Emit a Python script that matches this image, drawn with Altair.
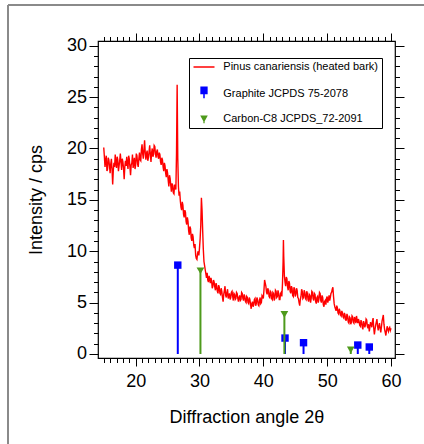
import altair as alt
import pandas as pd

FONT = "Liberation Sans"

PATTERN_X = [
    15.0, 15.1, 15.2, 15.3, 15.4, 15.5, 15.6, 15.7, 15.8, 15.9,
    16.0, 16.1, 16.2, 16.3, 16.4, 16.5, 16.6, 16.7, 16.8, 16.9,
    17.0, 17.1, 17.2, 17.3, 17.4, 17.5, 17.6, 17.7, 17.8, 17.9,
    18.0, 18.1, 18.2, 18.3, 18.4, 18.5, 18.6, 18.7, 18.8, 18.9,
    19.0, 19.1, 19.2, 19.3, 19.4, 19.5, 19.6, 19.7, 19.8, 19.9,
    20.0, 20.1, 20.2, 20.3, 20.4, 20.5, 20.6, 20.7, 20.8, 20.9,
    21.0, 21.1, 21.2, 21.3, 21.4, 21.5, 21.6, 21.7, 21.8, 21.9,
    22.0, 22.1, 22.2, 22.3, 22.4, 22.5, 22.6, 22.7, 22.8, 22.9,
    23.0, 23.1, 23.2, 23.3, 23.4, 23.5, 23.6, 23.7, 23.8, 23.9,
    24.0, 24.1, 24.2, 24.3, 24.4, 24.5, 24.6, 24.7, 24.8, 24.9,
    25.0, 25.1, 25.2, 25.3, 25.4, 25.5, 25.6, 25.7, 25.8, 25.9,
    26.0, 26.1, 26.2, 26.3, 26.4, 26.5, 26.6, 26.7, 26.8, 26.9,
    27.0, 27.1, 27.2, 27.3, 27.4, 27.5, 27.6, 27.7, 27.8, 27.9,
    28.0, 28.1, 28.2, 28.3, 28.4, 28.5, 28.6, 28.7, 28.8, 28.9,
    29.0, 29.1, 29.2, 29.3, 29.4, 29.5, 29.6, 29.7, 29.8, 29.9,
    30.0, 30.1, 30.2, 30.3, 30.4, 30.5, 30.6, 30.7, 30.8, 30.9,
    31.0, 31.1, 31.2, 31.3, 31.4, 31.5, 31.6, 31.7, 31.8, 31.9,
    32.0, 32.1, 32.2, 32.3, 32.4, 32.5, 32.6, 32.7, 32.8, 32.9,
    33.0, 33.1, 33.2, 33.3, 33.4, 33.5, 33.6, 33.7, 33.8, 33.9,
    34.0, 34.1, 34.2, 34.3, 34.4, 34.5, 34.6, 34.7, 34.8, 34.9,
    35.0, 35.1, 35.2, 35.3, 35.4, 35.5, 35.6, 35.7, 35.8, 35.9,
    36.0, 36.1, 36.2, 36.3, 36.4, 36.5, 36.6, 36.7, 36.8, 36.9,
    37.0, 37.1, 37.2, 37.3, 37.4, 37.5, 37.6, 37.7, 37.8, 37.9,
    38.0, 38.1, 38.2, 38.3, 38.4, 38.5, 38.6, 38.7, 38.8, 38.9,
    39.0, 39.1, 39.2, 39.3, 39.4, 39.5, 39.6, 39.7, 39.8, 39.9,
    40.0, 40.1, 40.2, 40.3, 40.4, 40.5, 40.6, 40.7, 40.8, 40.9,
    41.0, 41.1, 41.2, 41.3, 41.4, 41.5, 41.6, 41.7, 41.8, 41.9,
    42.0, 42.1, 42.2, 42.3, 42.4, 42.5, 42.6, 42.7, 42.8, 42.9,
    43.0, 43.1, 43.15, 43.2, 43.3, 43.4, 43.5, 43.6, 43.7, 43.8,
    43.9, 44.0, 44.1, 44.2, 44.3, 44.4, 44.5, 44.6, 44.7, 44.8,
    44.9, 45.0, 45.1, 45.2, 45.3, 45.4, 45.5, 45.6, 45.7, 45.8,
    45.9, 46.0, 46.1, 46.2, 46.3, 46.4, 46.5, 46.6, 46.7, 46.8,
    46.9, 47.0, 47.1, 47.2, 47.3, 47.4, 47.5, 47.6, 47.7, 47.8,
    47.9, 48.0, 48.1, 48.2, 48.3, 48.4, 48.5, 48.6, 48.7, 48.8,
    48.9, 49.0, 49.1, 49.2, 49.3, 49.4, 49.5, 49.6, 49.7, 49.8,
    49.9, 50.0, 50.1, 50.2, 50.3, 50.4, 50.5, 50.6, 50.7, 50.8,
    50.9, 51.0, 51.1, 51.2, 51.3, 51.4, 51.5, 51.6, 51.7, 51.8,
    51.9, 52.0, 52.1, 52.2, 52.3, 52.4, 52.5, 52.6, 52.7, 52.8,
    52.9, 53.0, 53.1, 53.2, 53.3, 53.4, 53.5, 53.6, 53.7, 53.8,
    53.9, 54.0, 54.1, 54.2, 54.3, 54.4, 54.5, 54.6, 54.7, 54.8,
    54.9, 55.0, 55.1, 55.2, 55.3, 55.4, 55.5, 55.6, 55.7, 55.8,
    55.9, 56.0, 56.1, 56.2, 56.3, 56.4, 56.5, 56.6, 56.7, 56.8,
    56.9, 57.0, 57.1, 57.2, 57.3, 57.4, 57.5, 57.6, 57.7, 57.8,
    57.9, 58.0, 58.1, 58.2, 58.3, 58.4, 58.5, 58.6, 58.7, 58.8,
    58.9, 59.0, 59.1, 59.2, 59.3, 59.4, 59.5, 59.6, 59.7, 59.8,
    59.9, 60.0,
]
PATTERN_Y = [
    20.1, 19.2, 18.2, 18.9, 19.3, 17.8, 18.0, 19.1, 18.9, 18.3,
    17.6, 18.5, 19.0, 18.0, 16.5, 17.9, 18.6, 18.2, 19.4, 18.6,
    18.1, 19.2, 18.9, 17.8, 18.3, 18.8, 19.5, 18.7, 17.9, 19.0,
    18.7, 18.1, 17.0, 18.2, 18.8, 18.3, 19.2, 18.5, 18.0, 19.3,
    19.0, 18.2, 17.4, 18.4, 18.6, 19.4, 18.1, 18.6, 19.1, 18.0,
    18.4, 19.5, 19.3, 18.5, 18.2, 19.0, 19.6, 18.9, 18.8, 19.9,
    20.4, 19.5, 19.0, 19.9, 20.8, 19.6, 18.9, 19.5, 19.8, 18.8,
    19.1, 19.7, 20.3, 19.4, 18.7, 19.6, 20.0, 19.2, 19.4, 20.3,
    20.2, 19.5, 19.1, 19.7, 19.9, 19.2, 19.0, 19.6, 19.4, 18.7,
    18.4, 19.1, 18.9, 18.2, 17.8, 18.6, 18.3, 17.6, 17.2, 18.0,
    17.6, 16.9, 16.3, 17.4, 17.1, 16.4, 15.8, 16.6, 16.4, 15.7,
    15.6, 16.5, 16.2, 16.0, 19.5, 26.2, 19.0, 16.3, 15.4, 15.8,
    14.9, 14.3, 14.0, 14.8, 14.5, 13.6, 13.3, 14.0, 13.8, 12.9,
    12.6, 13.3, 12.9, 12.0, 11.6, 12.4, 12.2, 11.3, 11.0, 11.7,
    11.4, 10.6, 10.3, 10.7, 9.6, 9.3, 9.2, 9.8, 10.0, 9.6,
    10.3, 11.2, 12.5, 15.2, 14.0, 12.0, 10.2, 9.0, 8.6, 8.2,
    7.8, 7.4, 7.9, 7.2, 7.0, 7.6, 7.3, 6.9, 7.4, 7.1,
    6.4, 6.6, 7.2, 7.0, 6.5, 6.2, 6.9, 6.6, 6.1, 5.9,
    6.7, 6.5, 5.9, 5.8, 6.4, 6.1, 5.5, 5.1, 5.8, 6.2,
    6.6, 5.7, 5.5, 6.0, 6.3, 5.4, 5.7, 5.9, 5.3, 5.5,
    6.0, 6.1, 5.6, 5.2, 5.9, 5.8, 5.3, 5.4, 6.0, 5.9,
    5.4, 5.1, 5.5, 5.7, 5.2, 5.3, 6.0, 5.9, 5.4, 5.2,
    5.8, 5.6, 5.1, 5.0, 5.6, 5.5, 5.0, 4.9, 5.5, 5.3,
    4.8, 4.4, 4.9, 5.1, 4.6, 4.8, 5.3, 5.4, 4.7, 4.9,
    5.5, 5.3, 4.8, 4.7, 5.2, 5.5, 4.9, 5.0, 5.7, 5.6,
    5.4, 6.2, 7.2, 6.9, 6.6, 6.0, 5.8, 6.4, 6.2, 5.6,
    5.5, 6.1, 6.0, 5.4, 5.3, 6.0, 5.9, 5.2, 5.4, 6.2,
    6.1, 5.5, 5.6, 6.2, 5.9, 5.3, 5.3, 5.9, 6.0, 5.6,
    6.8, 9.0, 11.1, 9.5, 7.6, 7.0, 6.6, 7.5, 7.3, 6.5,
    6.2, 7.1, 6.9, 6.1, 5.9, 6.6, 6.4, 5.7, 5.6, 6.5,
    6.3, 5.6, 5.8, 6.4, 6.2, 5.5, 5.4, 5.0, 4.7, 5.3,
    5.6, 6.3, 6.1, 5.4, 5.5, 6.2, 6.0, 5.4, 5.3, 6.1,
    5.9, 5.3, 5.1, 5.8, 5.7, 5.0, 5.4, 6.1, 6.0, 5.4,
    5.2, 5.9, 5.8, 5.1, 4.9, 5.5, 5.6, 5.0, 5.3, 6.0,
    5.9, 5.2, 5.0, 5.7, 5.5, 4.8, 4.6, 5.1, 5.2, 4.8,
    5.4, 5.6, 5.0, 5.3, 5.7, 5.2, 5.5, 5.9, 6.0, 6.3,
    6.5, 5.6, 4.9, 4.6, 4.4, 4.2, 4.7, 4.5, 4.0, 3.9,
    4.4, 4.2, 3.8, 3.7, 4.2, 4.0, 3.6, 3.5, 4.0, 3.8,
    3.3, 3.3, 3.9, 3.7, 3.1, 3.0, 3.6, 3.5, 2.9, 3.1,
    3.7, 3.6, 3.1, 3.0, 3.6, 3.4, 3.0, 3.7, 3.3, 3.0,
    3.4, 3.2, 2.8, 2.7, 3.3, 3.1, 2.6, 2.4, 3.2, 3.0,
    2.6, 2.8, 3.4, 3.3, 2.7, 2.5, 2.9, 2.2, 2.6, 3.1,
    2.9, 2.6, 3.2, 3.5, 2.5, 1.9, 2.4, 2.8, 3.1, 3.4,
    2.7, 2.3, 2.7, 3.0, 2.5, 2.1, 2.6, 3.2, 3.5, 3.8,
    2.9, 2.4, 2.1, 1.8, 2.3, 2.7, 2.4, 2.2, 2.5, 2.6,
    2.3, 2.5,
]

GRAPHITE_X = [26.6, 43.4, 46.3, 54.8, 56.6]
GRAPHITE_Y = [8.65, 1.55, 1.1, 0.87, 0.68]
CARBON_X = [30.15, 43.3, 53.7]
CARBON_Y = [8.1, 3.86, 0.4]

SERIES = ["Pinus canariensis (heated bark)", "Graphite JCPDS 75-2078", "Carbon-C8 JCPDS_72-2091"]
COLORS = ["#ff0000", "#0000ff", "#4e9a1c"]
LEGEND_SHAPES = [
    "M-2.1,-0.15H2.1V0.15H-2.1Z",
    "M-0.73,-1.4H0.73V0.15H0.15V0.95H-0.15V0.15H-0.73Z",
    "M-0.76,-0.7L0.76,-0.7L0.13,0.45V0.85H-0.13V0.45Z",
]

X_TICKS = [15, 16, 17, 18, 19, 20, 21, 22, 23, 24, 25, 26, 27, 28, 29, 30,
           31, 32, 33, 34, 35, 36, 37, 38, 39, 40, 41, 42, 43, 44, 45,
           46, 47, 48, 49, 50, 51, 52, 53, 54, 55, 56, 57, 58, 59, 60]
Y_TICKS = [0, 1, 2, 3, 4, 5, 6, 7, 8, 9, 10, 11, 12, 13, 14, 15,
           16, 17, 18, 19, 20, 21, 22, 23, 24, 25, 26, 27, 28, 29, 30]
X_DOMAIN = [14.1, 60.63]
Y_DOMAIN = [-0.39, 30.46]

pattern = pd.DataFrame({"x": PATTERN_X, "y": PATTERN_Y})
graphite = pd.DataFrame({"x": GRAPHITE_X, "y": GRAPHITE_Y})
carbon = pd.DataFrame({"x": CARBON_X, "y": CARBON_Y})
legend_df = pd.DataFrame({"series": SERIES})

xs = alt.Scale(domain=X_DOMAIN, nice=False, zero=False)
ys = alt.Scale(domain=Y_DOMAIN, nice=False, zero=False)

xtick = {"condition": {"test": "datum.value % 10 === 0", "value": 8}, "value": 4.5}
ytick = {"condition": {"test": "datum.value % 5 === 0", "value": 9}, "value": 4.5}

common = dict(domain=False, grid=False, tickColor="black", tickWidth=1,
              labelFont=FONT, labelFontSize=18, labelColor="black",
              titleFont=FONT, titleFontSize=18, titleFontWeight="normal",
              titleColor="black", labelOverlap=False)

bottom_axis = alt.Axis(orient="bottom", values=X_TICKS, tickSize=xtick,
                       labelExpr="datum.value % 10 === 0 ? datum.label : ''",
                       labelPadding=6, title="Diffraction angle 2θ", titlePadding=18,
                       **common)
left_axis = alt.Axis(orient="left", values=Y_TICKS, tickSize=ytick,
                     labelExpr="datum.value % 5 === 0 ? datum.label : ''",
                     labelPadding=2.5, title="Intensity / cps", titlePadding=21,
                     **common)
top_axis = alt.Axis(orient="top", values=X_TICKS, tickSize=xtick, labels=False,
                    title=None, **common)
right_axis = alt.Axis(orient="right", values=Y_TICKS, tickSize=ytick, labels=False,
                      title=None, **common)

line = alt.Chart(pattern).mark_line(color="#ff0000", strokeWidth=1.4).encode(
    x=alt.X("x:Q", scale=xs, axis=bottom_axis),
    y=alt.Y("y:Q", scale=ys, axis=left_axis),
)
mirror = alt.Chart(pattern).mark_line(strokeOpacity=0).encode(
    x=alt.X("x:Q", scale=xs, axis=top_axis),
    y=alt.Y("y:Q", scale=ys, axis=right_axis),
)

g_rule = alt.Chart(graphite).mark_rule(color="#0000ff", strokeWidth=2).encode(
    x=alt.X("x:Q", scale=xs, axis=None),
    y=alt.Y("y:Q", scale=ys, axis=None),
    y2=alt.Y2(datum=0),
)
g_pt = alt.Chart(graphite).mark_point(shape="square", filled=True, size=55,
                                      color="#0000ff", opacity=1).encode(
    x=alt.X("x:Q", scale=xs, axis=None),
    y=alt.Y("y:Q", scale=ys, axis=None),
)
c_rule = alt.Chart(carbon).mark_rule(color="#4e9a1c", strokeWidth=2).encode(
    x=alt.X("x:Q", scale=xs, axis=None),
    y=alt.Y("y:Q", scale=ys, axis=None),
    y2=alt.Y2(datum=0),
)
c_pt = alt.Chart(carbon).mark_point(shape="triangle-down", filled=True, size=60,
                                    color="#4e9a1c", opacity=1).encode(
    x=alt.X("x:Q", scale=xs, axis=None),
    y=alt.Y("y:Q", scale=ys, axis=None),
)

leg = alt.Legend(orient="none", legendX=91, legendY=17, padding=3.5,
                 strokeColor="black", fillColor="white", symbolSize=100,
                 symbolOffset=6, labelOffset=13.8, labelFont=FONT, labelFontSize=11,
                 labelColor="black", rowPadding=13.5, title=None,
                 symbolStrokeWidth=0, symbolOpacity=1, labelLimit=400)
legend_layer = alt.Chart(legend_df).mark_point(filled=True).encode(
    color=alt.Color("series:N", scale=alt.Scale(domain=SERIES, range=COLORS), legend=leg),
    shape=alt.Shape("series:N", scale=alt.Scale(domain=SERIES, range=LEGEND_SHAPES), legend=leg),
    opacity=alt.value(0),
)

one = pd.DataFrame({"k": [0]})
border_v = alt.Chart(one).mark_rule(color="#8a8a8a", strokeWidth=2).encode(
    x=alt.value(-90), y=alt.value(-36), y2=alt.value(403))
border_h = alt.Chart(one).mark_rule(color="#8a8a8a", strokeWidth=2).encode(
    x=alt.value(-90), x2=alt.value(326), y=alt.value(-36))

chart = alt.layer(
    line, mirror, g_rule, g_pt, c_rule, c_pt, legend_layer, border_v, border_h
).resolve_axis(x="independent", y="independent").properties(
    width=297, height=317,
    autosize=alt.AutoSizeParams(type="none"),
    padding={"left": 98, "top": 41, "right": 29, "bottom": 86},
    background="white",
).configure_view(stroke="black", strokeWidth=1.2)

chart.save("out.html", embed_options={"renderer": "svg", "actions": False})
